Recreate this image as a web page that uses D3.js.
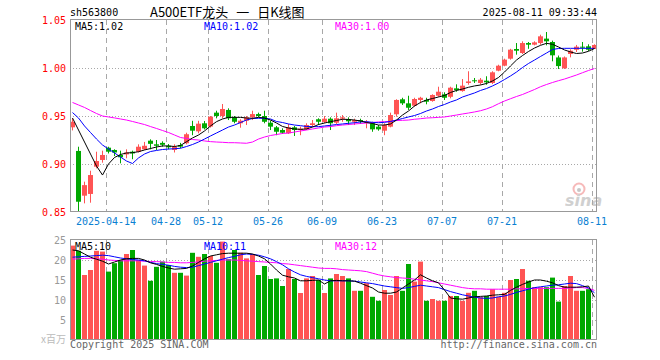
<!DOCTYPE html>
<html>
<head>
<meta charset="utf-8">
<script src="https://cdn.jsdelivr.net/npm/d3@7"></script>
<style>
  body { margin: 0; background: #fff; }
  text { font-family: "DejaVu Sans Mono", monospace; font-size: 10px; }
</style>
</head>
<body>
<script>
const dates = [
  "2025-04-03","2025-04-07","2025-04-08","2025-04-09","2025-04-10","2025-04-11",
  "2025-04-14","2025-04-15","2025-04-16","2025-04-17","2025-04-18",
  "2025-04-21","2025-04-22","2025-04-23","2025-04-24","2025-04-25",
  "2025-04-28","2025-04-29","2025-04-30",
  "2025-05-06","2025-05-07","2025-05-08","2025-05-09",
  "2025-05-12","2025-05-13","2025-05-14","2025-05-15","2025-05-16",
  "2025-05-19","2025-05-20","2025-05-21","2025-05-22","2025-05-23",
  "2025-05-26","2025-05-27","2025-05-28","2025-05-29","2025-05-30",
  "2025-06-03","2025-06-04","2025-06-05","2025-06-06",
  "2025-06-09","2025-06-10","2025-06-11","2025-06-12","2025-06-13",
  "2025-06-16","2025-06-17","2025-06-18","2025-06-19","2025-06-20",
  "2025-06-23","2025-06-24","2025-06-25","2025-06-26","2025-06-27",
  "2025-06-30","2025-07-01","2025-07-02","2025-07-03","2025-07-04",
  "2025-07-07","2025-07-08","2025-07-09","2025-07-10","2025-07-11",
  "2025-07-14","2025-07-15","2025-07-16","2025-07-17","2025-07-18",
  "2025-07-21","2025-07-22","2025-07-23","2025-07-24","2025-07-25",
  "2025-07-28","2025-07-29","2025-07-30","2025-07-31","2025-08-01",
  "2025-08-04","2025-08-05","2025-08-06","2025-08-07","2025-08-08",
  "2025-08-11"
];

const open = [
  0.9382,0.9136,0.8670,0.8688,0.8972,0.9042,0.9170,0.9146,0.9094,0.9100,
  0.9128,0.9128,0.9153,0.9243,0.9205,0.9220,0.9190,0.9146,0.9198,0.9216,
  0.9396,0.9340,0.9424,0.9390,0.9535,0.9500,0.9563,0.9486,0.9424,0.9451,
  0.9486,0.9520,0.9500,0.9430,0.9382,0.9354,0.9320,0.9382,0.9354,0.9361,
  0.9406,0.9466,0.9438,0.9472,0.9430,0.9472,0.9466,0.9440,0.9458,0.9430,
  0.9424,0.9389,0.9347,0.9389,0.9518,0.9674,0.9632,0.9607,0.9667,0.9667,
  0.9656,0.9711,0.9726,0.9700,0.9788,0.9760,0.9844,0.9872,0.9844,0.9868,
  0.9844,0.9972,1.0024,1.0097,1.0198,1.0156,1.0260,1.0243,1.0260,1.0306,
  1.0271,1.0110,0.9997,1.0146,1.0190,1.0222,1.0226,1.0198
];
const high = [
  0.9476,0.9180,0.8816,0.8930,0.9128,0.9139,0.9180,0.9153,0.9139,0.9153,
  0.9139,0.9205,0.9230,0.9257,0.9250,0.9236,0.9208,0.9205,0.9220,0.9326,
  0.9450,0.9450,0.9448,0.9500,0.9555,0.9625,0.9580,0.9500,0.9466,0.9500,
  0.9555,0.9535,0.9555,0.9451,0.9396,0.9372,0.9417,0.9396,0.9389,0.9424,
  0.9458,0.9476,0.9500,0.9486,0.9535,0.9510,0.9486,0.9472,0.9472,0.9458,
  0.9440,0.9406,0.9424,0.9535,0.9674,0.9690,0.9711,0.9690,0.9700,0.9690,
  0.9726,0.9805,0.9747,0.9805,0.9830,0.9885,0.9966,0.9896,0.9896,0.9914,
  0.9966,1.0034,1.0097,1.0200,1.0260,1.0278,1.0271,1.0278,1.0347,1.0375,
  1.0285,1.0130,1.0120,1.0195,1.0240,1.0271,1.0247,1.0247
];
const low = [
  0.9350,0.8500,0.8590,0.8597,0.8955,0.9014,0.9110,0.9083,0.9007,0.9060,
  0.9050,0.9120,0.9146,0.9153,0.9146,0.9180,0.9153,0.9120,0.9164,0.9205,
  0.9300,0.9320,0.9360,0.9380,0.9476,0.9476,0.9458,0.9424,0.9378,0.9406,
  0.9458,0.9486,0.9424,0.9354,0.9300,0.9313,0.9313,0.9292,0.9300,0.9354,
  0.9389,0.9406,0.9424,0.9354,0.9417,0.9440,0.9406,0.9406,0.9417,0.9372,
  0.9336,0.9347,0.9300,0.9382,0.9493,0.9615,0.9563,0.9597,0.9632,0.9622,
  0.9649,0.9700,0.9667,0.9684,0.9753,0.9753,0.9826,0.9844,0.9826,0.9826,
  0.9833,0.9966,1.0018,1.0087,1.0139,1.0146,1.0200,1.0236,1.0243,1.0236,
  1.0070,0.9990,0.9990,1.0111,1.0167,1.0170,1.0177,1.0198
];
const close = [
  0.9440,0.8607,0.8780,0.8885,0.9031,0.9094,0.9128,0.9120,0.9070,0.9120,
  0.9110,0.9180,0.9190,0.9210,0.9190,0.9200,0.9174,0.9180,0.9181,0.9310,
  0.9347,0.9420,0.9372,0.9493,0.9500,0.9573,0.9476,0.9440,0.9451,0.9486,
  0.9520,0.9500,0.9440,0.9389,0.9336,0.9326,0.9382,0.9354,0.9368,0.9406,
  0.9424,0.9440,0.9472,0.9424,0.9476,0.9486,0.9445,0.9458,0.9445,0.9440,
  0.9361,0.9361,0.9406,0.9510,0.9667,0.9632,0.9586,0.9677,0.9690,0.9649,
  0.9719,0.9753,0.9690,0.9795,0.9770,0.9816,0.9860,0.9862,0.9878,0.9851,
  0.9955,1.0024,1.0087,1.0191,1.0180,1.0260,1.0243,1.0267,1.0330,1.0278,
  1.0132,1.0020,1.0110,1.0180,1.0222,1.0212,1.0190,1.0240
];

const ma5 = [
  0.9479,0.9354,0.9229,0.9104,0.8979,0.8885,0.9000,0.9068,0.9099,0.9115,
  0.9118,0.9128,0.9146,0.9161,0.9177,0.9188,0.9188,0.9182,0.9193,0.9232,
  0.9271,0.9302,0.9344,0.9396,0.9441,0.9469,0.9486,0.9486,0.9486,0.9479,
  0.9476,0.9486,0.9479,0.9458,0.9427,0.9391,0.9375,0.9365,0.9361,0.9365,
  0.9385,0.9411,0.9427,0.9441,0.9453,0.9466,0.9464,0.9458,0.9448,0.9432,
  0.9422,0.9406,0.9406,0.9417,0.9458,0.9510,0.9552,0.9604,0.9641,0.9667,
  0.9682,0.9698,0.9714,0.9745,0.9766,0.9781,0.9799,0.9813,0.9823,0.9839,
  0.9865,0.9901,0.9958,1.0021,1.0083,1.0130,1.0172,1.0208,1.0236,1.0257,
  1.0247,1.0219,1.0188,1.0167,1.0151,1.0156,1.0174,1.0203
];
const ma10 = [
  0.9536,0.9479,0.9396,0.9328,0.9260,0.9198,0.9156,0.9115,0.9073,0.9031,
  0.9005,0.9063,0.9104,0.9130,0.9141,0.9151,0.9156,0.9159,0.9164,0.9182,
  0.9203,0.9229,0.9260,0.9292,0.9323,0.9354,0.9385,0.9406,0.9432,0.9458,
  0.9474,0.9476,0.9476,0.9469,0.9443,0.9432,0.9417,0.9406,0.9399,0.9391,
  0.9389,0.9389,0.9396,0.9403,0.9411,0.9417,0.9424,0.9430,0.9438,0.9441,
  0.9434,0.9430,0.9434,0.9443,0.9458,0.9474,0.9490,0.9505,0.9526,0.9552,
  0.9573,0.9599,0.9620,0.9646,0.9667,0.9698,0.9719,0.9740,0.9766,0.9786,
  0.9813,0.9844,0.9880,0.9917,0.9958,1.0005,1.0047,1.0083,1.0120,1.0156,
  1.0193,1.0203,1.0205,1.0205,1.0205,1.0205,1.0205,1.0205
];
const ma30 = [
  0.9641,0.9615,0.9589,0.9557,0.9526,0.9500,0.9490,0.9480,0.9469,0.9458,
  0.9443,0.9427,0.9411,0.9390,0.9370,0.9349,0.9328,0.9302,0.9276,0.9266,
  0.9255,0.9250,0.9240,0.9233,0.9229,0.9226,0.9222,0.9222,0.9219,0.9216,
  0.9229,0.9260,0.9281,0.9297,0.9307,0.9318,0.9323,0.9333,0.9344,0.9354,
  0.9365,0.9375,0.9385,0.9390,0.9399,0.9406,0.9411,0.9417,0.9422,0.9427,
  0.9432,0.9438,0.9441,0.9443,0.9453,0.9455,0.9458,0.9466,0.9472,0.9479,
  0.9482,0.9486,0.9490,0.9500,0.9510,0.9521,0.9531,0.9542,0.9555,0.9573,
  0.9597,0.9628,0.9656,0.9680,0.9703,0.9724,0.9750,0.9776,0.9805,0.9828,
  0.9849,0.9868,0.9885,0.9906,0.9927,0.9951,0.9974,0.9995
];

// volume in millions
const volume = [
  23.6,22.3,16.25,17.5,22.3,22.1,17.1,19.2,20.0,21.5,
  22.5,20.0,18.6,14.8,18.3,19.6,18.75,16.8,16.8,16.1,
  21.8,20.8,21.5,21.0,19.3,24.6,20.2,22.5,21.8,20.4,
  21.5,16.25,18.5,15.25,15.4,13.5,17.75,15.25,11.75,15.4,
  16.0,15.0,11.75,15.4,16.5,16.0,15.4,12.3,12.3,14.2,
  10.8,9.8,12.5,11.25,16.0,12.3,19.0,14.6,19.6,9.8,
  10.25,9.8,9.8,11.0,11.0,9.8,11.8,12.3,10.7,11.0,
  12.7,10.8,11.8,15.0,15.25,17.75,14.8,13.2,13.2,13.2,
  15.6,9.6,13.5,16.0,12.3,12.3,12.7,0.25
];
const volMa5 = [
  22.5,22.3,21.5,20.7,20.2,19.7,19.0,19.5,20.0,20.3,
  20.4,20.4,20.0,19.3,18.9,18.4,18.0,17.7,17.8,17.9,
  18.5,19.4,20.3,21.0,21.3,21.6,21.7,21.7,21.7,21.7,
  21.5,21.0,20.3,19.0,17.5,16.2,15.8,15.5,14.8,14.8,
  14.9,15.0,14.0,14.8,14.9,14.8,14.8,14.7,14.2,13.6,
  13.0,12.0,11.7,11.7,12.0,13.0,14.0,15.0,16.3,15.5,
  14.8,14.3,12.5,10.5,10.3,10.2,10.5,10.8,10.9,11.0,
  11.2,11.3,11.4,12.4,13.2,13.9,14.5,15.0,15.0,14.7,
  14.3,13.6,13.2,13.2,13.2,13.3,13.5,10.7
];
const volMa10 = [
  20.7,20.8,20.9,21.0,21.1,21.2,21.1,20.8,20.5,20.3,
  20.1,20.0,19.8,19.4,19.1,18.9,18.7,18.4,18.2,18.1,
  18.2,18.6,19.0,19.4,19.8,20.2,20.6,20.9,21.3,21.5,
  21.4,21.2,20.8,20.3,19.6,18.8,17.8,17.0,16.3,15.9,
  15.6,15.3,15.0,14.8,14.8,14.8,14.8,14.7,14.5,14.3,
  14.1,13.8,13.5,13.3,13.1,12.9,13.1,13.4,13.7,13.5,
  13.3,13.1,12.6,12.1,11.7,11.3,11.0,10.7,10.5,10.4,
  10.5,10.8,11.0,11.4,11.9,12.3,12.7,13.1,13.3,13.5,
  13.7,13.8,14.0,14.2,14.1,13.6,13.0,11.8
];
const volMa30 = [
  20.2,20.3,20.4,20.4,20.3,20.2,20.0,19.9,19.8,19.8,
  19.8,19.8,19.7,19.6,19.6,19.5,19.4,19.4,19.3,19.3,
  19.4,19.5,19.7,19.8,19.9,20.0,20.0,20.0,19.9,19.8,
  19.7,19.6,19.5,19.4,19.3,19.1,19.0,18.8,18.6,18.4,
  18.2,18.0,17.9,17.9,17.8,17.6,17.5,17.4,17.3,17.1,
  16.7,16.3,16.0,15.8,15.6,15.5,15.4,15.2,15.0,14.8,
  14.6,14.3,14.0,13.7,13.4,13.1,12.9,12.8,12.8,12.7,
  12.7,12.7,12.7,12.7,12.8,12.8,12.9,12.9,12.9,12.9,
  12.9,12.9,12.9,13.0,13.1,13.1,12.9,12.4
];

const tickDates = ["2025-04-14","2025-04-28","2025-05-12","2025-05-26","2025-06-09",
                   "2025-06-23","2025-07-07","2025-07-21","2025-08-11"];
const tickLabels = ["2025-04-14","04-28","05-12","05-26","06-09","06-23","07-07","07-21","08-11"];
const priceTicks = [0.85, 0.90, 0.95, 1.00, 1.05];
const priceGrid = [0.90, 0.95, 1.00];
const volTicks = [5, 10, 15, 20, 25];
const volGrid = [5, 10, 15, 20];
const titleParts = ["A500ETF龙头", "一", "日K线图"];

const RED = "#ff5454";
const GREEN = "#00a800";
const GRID = "#a8a8a8";

const svg = d3.select("body")
              .append("svg")
              .attr("width", 660)
              .attr("height", 360);

const x = d3.scaleBand().domain(dates).range([70, 598]);
const y = d3.scaleLinear().domain([0.85, 1.05]).range([212, 20]);
const yv = d3.scaleLinear().domain([0, 25]).range([340, 240]);

const candles = dates.map((d, i) => ({
    date: d, o: open[i], h: high[i], l: low[i], c: close[i], v: volume[i]
}));
const isUp = (d) => d.c >= d.o;

// header
svg.append("text").attr("x", 70).attr("y", 16).text("sh563800");
svg.append("text")
   .attr("x", 150).attr("y", 17)
   .style("font-family", "'Noto Sans CJK SC', sans-serif")
   .style("font-size", "13px")
   .selectAll("tspan")
   .data(titleParts)
   .join("tspan")
   .attr("dx", (d, i) => i === 0 ? 0 : 8)
   .text((d) => d);
svg.append("text").attr("x", 597).attr("y", 16).attr("text-anchor", "end").text("2025-08-11 09:33:44");

// sina watermark
const logo = svg.append("g").attr("opacity", 0.55);
logo.append("circle").attr("cx", 579).attr("cy", 189).attr("r", 5.5)
    .attr("fill", "none").attr("stroke", "#f08080").attr("stroke-width", 2);
logo.append("circle").attr("cx", 579).attr("cy", 190).attr("r", 2).attr("fill", "#999");
logo.append("text")
    .attr("x", 565).attr("y", 206)
    .style("font-family", "'DejaVu Sans', sans-serif")
    .style("font-size", "16px")
    .style("font-weight", "bold")
    .style("font-style", "italic")
    .attr("fill", "#aaa")
    .text("sina");

// grids
const gridG = svg.append("g");
gridG.selectAll(".hp")
     .data(priceGrid)
     .join("line")
     .attr("x1", 70).attr("x2", 597)
     .attr("y1", (d) => Math.round(y(d)) + 0.5)
     .attr("y2", (d) => Math.round(y(d)) + 0.5)
     .attr("stroke", GRID).attr("stroke-dasharray", "1,2");
gridG.selectAll(".hv")
     .data(volGrid)
     .join("line")
     .attr("x1", 70).attr("x2", 597)
     .attr("y1", (d) => Math.round(yv(d)) + 0.5)
     .attr("y2", (d) => Math.round(yv(d)) + 0.5)
     .attr("stroke", GRID).attr("stroke-dasharray", "1,2");
[[20, 212], [240, 340]].forEach(([y1, y2]) => {
    gridG.append("g")
         .selectAll("line")
         .data(tickDates)
         .join("line")
         .attr("x1", (d) => x(d) + 0.5).attr("x2", (d) => x(d) + 0.5)
         .attr("y1", y1).attr("y2", y2)
         .attr("stroke", GRID).attr("stroke-dasharray", "5,4");
});

// candles
const candleG = svg.append("g");
candleG.selectAll(".wick")
       .data(candles)
       .join("rect")
       .attr("x", (d) => x(d.date) + 2)
       .attr("width", 1)
       .attr("y", (d) => y(d.h))
       .attr("height", (d) => Math.max(1, y(d.l) - y(d.h)))
       .attr("fill", (d) => isUp(d) ? RED : GREEN);
candleG.selectAll(".body")
       .data(candles)
       .join("rect")
       .attr("x", (d) => x(d.date))
       .attr("width", x.bandwidth() - 1)
       .attr("y", (d) => y(Math.max(d.o, d.c)))
       .attr("height", (d) => Math.max(1, Math.abs(y(d.o) - y(d.c))))
       .attr("fill", (d) => isUp(d) ? RED : GREEN);

// volume bars
svg.append("g")
   .selectAll("rect")
   .data(candles)
   .join("rect")
   .attr("x", (d) => x(d.date))
   .attr("width", x.bandwidth() - 1)
   .attr("y", (d) => yv(d.v))
   .attr("height", (d) => 340 - yv(d.v))
   .attr("fill", (d) => isUp(d) ? RED : GREEN);

// moving averages
const cx = (i) => x(dates[i]) + 2.5;
const priceLine = d3.line().x((d, i) => cx(i)).y((d) => y(d));
const volLine = d3.line().x((d, i) => cx(i)).y((d) => yv(d));

const maSeries = [
    {p: ma5, v: volMa5, color: "#000000", name: "MA5", lx: 75},
    {p: ma10, v: volMa10, color: "#0000ff", name: "MA10", lx: 204},
    {p: ma30, v: volMa30, color: "#ff00ff", name: "MA30", lx: 335},
];
const maG = svg.append("g").attr("fill", "none").attr("stroke-width", 1);
maG.selectAll(".mp")
   .data(maSeries.slice().reverse())
   .join("path")
   .attr("d", (s) => priceLine(s.p))
   .attr("stroke", (s) => s.color);
maG.selectAll(".mv")
   .data(maSeries.slice().reverse())
   .join("path")
   .attr("d", (s) => volLine(s.v))
   .attr("stroke", (s) => s.color);

// frames
svg.append("rect").attr("x", 70.5).attr("y", 19.5).attr("width", 526).attr("height", 192)
   .attr("fill", "none").attr("stroke", "#999");
svg.append("rect").attr("x", 70.5).attr("y", 239.5).attr("width", 526).attr("height", 100)
   .attr("fill", "none").attr("stroke", "#999");

// MA labels
svg.append("g")
   .selectAll("text")
   .data(maSeries)
   .join("text")
   .attr("x", (s) => s.lx).attr("y", 30)
   .attr("fill", (s) => s.color)
   .text((s) => `${s.name}:${s.p[s.p.length - 1].toFixed(2)}`);
svg.append("g")
   .selectAll("text")
   .data(maSeries)
   .join("text")
   .attr("x", (s) => s.lx).attr("y", 250)
   .attr("fill", (s) => s.color)
   .text((s) => `${s.name}:${Math.floor(s.v[s.v.length - 1])}`);

// axes
const yAxis = svg.append("g")
                 .attr("transform", "translate(70,0)")
                 .call(d3.axisLeft(y).tickValues(priceTicks).tickFormat(d3.format(".2f")).tickSize(0).tickPadding(4));
yAxis.select(".domain").remove();
yAxis.selectAll("text").attr("fill", "#ff0000").style("font-size", "10px").style("font-family", "'DejaVu Sans Mono', monospace");

const vAxis = svg.append("g")
                 .attr("transform", "translate(70,0)")
                 .call(d3.axisLeft(yv).tickValues(volTicks).tickSize(0).tickPadding(4));
vAxis.select(".domain").remove();
vAxis.selectAll("text").attr("fill", "#999").style("font-size", "10px").style("font-family", "'DejaVu Sans Mono', monospace");

const xAxis = svg.append("g")
                 .attr("transform", `translate(${-x.bandwidth() / 2},212)`)
                 .call(d3.axisBottom(x).tickValues(tickDates)
                         .tickFormat((d) => tickLabels[tickDates.indexOf(d)])
                         .tickSize(0).tickPadding(6));
xAxis.select(".domain").remove();
xAxis.selectAll("text").attr("fill", "#0a80d2").style("font-size", "10px").style("font-family", "'DejaVu Sans Mono', monospace");

svg.append("text")
   .attr("x", 66).attr("y", 343).attr("text-anchor", "end")
   .attr("fill", "#bbb")
   .style("font-family", "'Noto Sans CJK SC', sans-serif")
   .text("x百万");

// footer
svg.append("text").attr("x", 70).attr("y", 348).attr("fill", "#666").text("Copyright 2025 SINA.COM");
svg.append("text").attr("x", 597).attr("y", 348).attr("text-anchor", "end").attr("fill", "#666").text("http://finance.sina.com.cn");
</script>
</body>
</html>
